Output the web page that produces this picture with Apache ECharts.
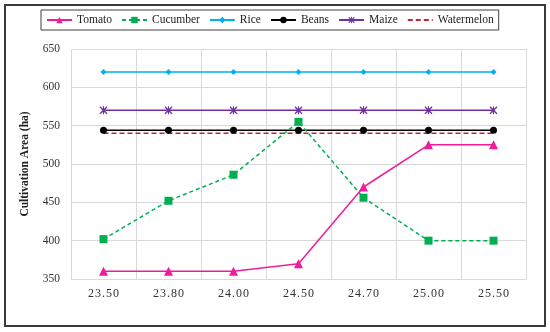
<!DOCTYPE html>
<html><head><meta charset="utf-8">
<script src="https://cdn.jsdelivr.net/npm/echarts@6/dist/echarts.min.js"></script>
<style>html,body{margin:0;padding:0;background:#fff}#c{width:550px;height:332px}</style>
</head><body><div id="c"></div>
<script>
const categories = ['23.50','23.80','24.00','24.50','24.70','25.00','25.50'];
const tomato     = [360, 360, 360, 370, 470, 525, 525];
const cucumber   = [402, 452, 486, 555, 456, 400, 400];
const rice       = [620, 620, 620, 620, 620, 620, 620];
const beans      = [544, 544, 544, 544, 544, 544, 544];
const maize      = [570, 570, 570, 570, 570, 570, 570];
const watermelon = [540, 540, 540, 540, 540, 540, 540];
const yTicks = [350, 400, 450, 500, 550, 600, 650];
const legendNames = ['Tomato','Cucumber','Rice','Beans','Maize','Watermelon'];

const FONT = '"Liberation Serif", "DejaVu Serif", serif';
const starPath = 'path://M1,0L5,3.6L9,0L10,1L6.4,5L10,9L9,10L5,6.4L1,10L0,9L3.6,5L0,1Z M4.3,0L5.7,0L5.7,10L4.3,10Z';

function mk(name, data, color, symbol, size, dashed) {
  return {
    name, type: 'line', data,
    symbol, symbolSize: size, showSymbol: symbol !== 'none',
    lineStyle: { color, width: 1.5, type: dashed || 'solid' },
    itemStyle: { color },
    emphasis: { disabled: true },
    animation: false
  };
}

const chart = echarts.init(document.getElementById('c'), null, { renderer: 'canvas' });
chart.setOption({
  animation: false,
  graphic: [{
    type: 'rect', shape: { x: 5, y: 5, width: 540, height: 321 },
    style: { fill: 'none', stroke: '#3a3a3a', lineWidth: 2 }, z: -1
  }],
  legend: {
    left: 41, top: 10,
    padding: [4, 5, 4, 5],
    itemWidth: 25, itemHeight: 8, itemGap: 9,
    borderColor: '#404040', borderWidth: 1,
    textStyle: { fontFamily: FONT, fontSize: 11.5, color: '#222' },
    data: legendNames.map(n => n === 'Watermelon'
      ? { name: n, itemStyle: { opacity: 0 } }
      : n)
  },
  grid: { left: 71, right: 24, top: 49, bottom: 53, containLabel: false },
  xAxis: {
    type: 'category', data: categories, boundaryGap: true,
    axisLine: { lineStyle: { color: '#d9d9d9', width: 1 } },
    axisTick: { show: false },
    splitLine: { show: true, lineStyle: { color: '#d9d9d9', width: 1 } },
    axisLabel: {
      margin: 9, fontFamily: FONT, fontSize: 12, color: '#333',
      formatter: v => v.split('').join('\u200A')
    }
  },
  yAxis: {
    type: 'value', min: yTicks[0], max: yTicks[yTicks.length - 1], interval: 50,
    name: 'Cultivation Area (ha)', nameLocation: 'middle', nameGap: 40, nameRotate: 90,
    nameTextStyle: { fontFamily: FONT, fontSize: 11.5, fontWeight: 'bold', color: '#222' },
    axisLine: { show: false }, axisTick: { show: false },
    splitLine: { show: true, lineStyle: { color: '#d9d9d9', width: 1 } },
    axisLabel: { margin: 11, fontFamily: FONT, fontSize: 11.5, color: '#333' }
  },
  series: [
    mk('Watermelon', watermelon, '#c0282d', 'none', 0, [5, 3]),
    mk('Beans', beans, '#000000', 'circle', 7),
    mk('Maize', maize, '#7030a0', starPath, 8),
    mk('Rice', rice, '#00b0f0', 'diamond', 6),
    mk('Cucumber', cucumber, '#00b050', 'rect', 8, [4, 3]),
    mk('Tomato', tomato, '#f01c9c', 'triangle', 9)
  ]
});
</script></body></html>
